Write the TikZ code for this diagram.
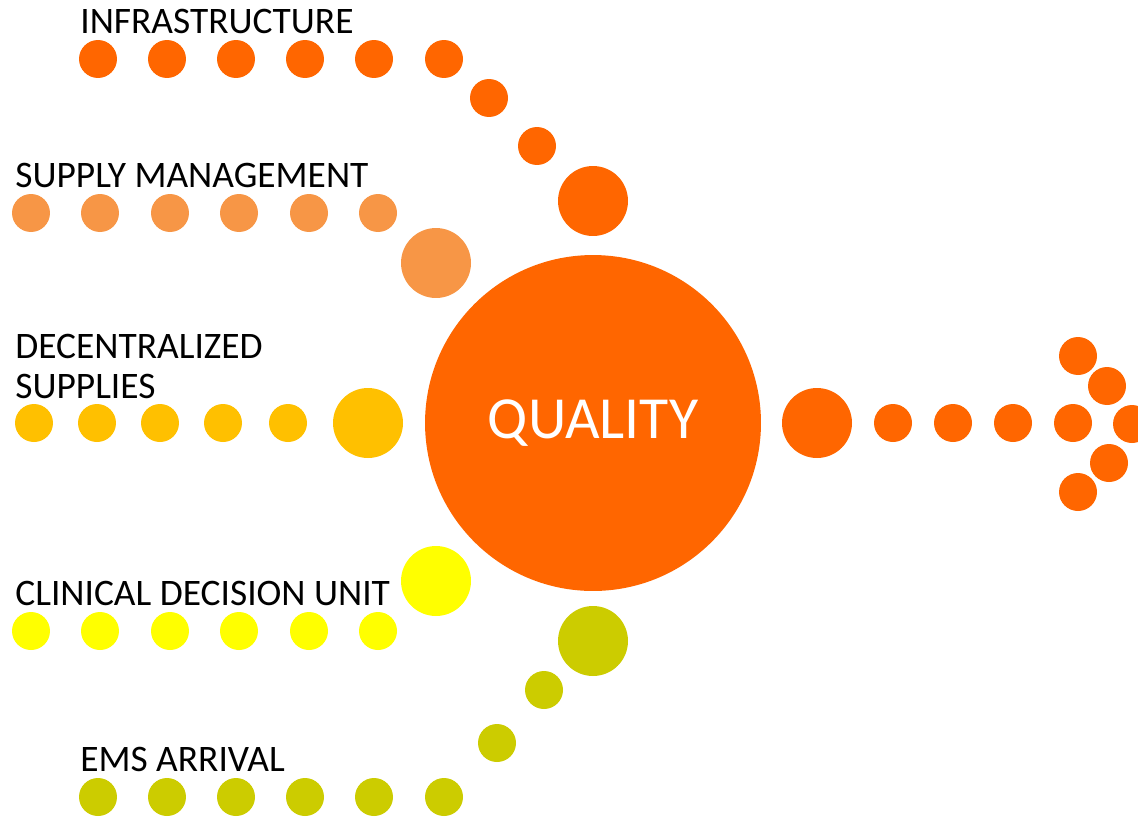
\documentclass[tikz,border=0pt]{standalone}
\usepackage{fontspec}
\setmainfont{Carlito}
\definecolor{qorange}{HTML}{FF6600}
\definecolor{qpeach}{HTML}{F79646}
\definecolor{qamber}{HTML}{FFC000}
\definecolor{qyellow}{HTML}{FFFF00}
\definecolor{qolive}{HTML}{CCCC00}
\tikzset{
  bead/.style={circle,fill=#1,inner sep=0pt,minimum size=0.76cm},
  bigbead/.style={circle,fill=#1,inner sep=0pt,minimum size=1.4cm},
  lbl/.style={anchor=base west,inner sep=0pt,font=\fontsize{21.3}{25}\selectfont}
}
\begin{document}
\begin{tikzpicture}[x=0.02cm,y=-0.02cm]
\useasboundingbox (0,0) rectangle (1138,818);

% centre
\node[circle,fill=qorange,inner sep=0pt,minimum size=6.72cm,text=white,
  font=\fontsize{34}{40}\selectfont] (quality) at (593,423) {QUALITY};

% infrastructure
\foreach \x [count=\i] in {98,167,236,305,374,444}
  \node[bead=qorange] (infra\i) at (\x,59) {};
\node[bead=qorange] (infra7) at (489,98) {};
\node[bead=qorange] (infra8) at (537,146) {};
\node[bigbead=qorange] (infra9) at (593,201) {};
\node[lbl] (infralbl) at (80,33) {INFRASTRUCTURE};

% supply management
\foreach \x [count=\i] in {31,100,170,239,309,378}
  \node[bead=qpeach] (supply\i) at (\x,213) {};
\node[bigbead=qpeach] (supply7) at (436,263) {};
\node[lbl] (supplylbl) at (15,187) {SUPPLY MANAGEMENT};

% decentralized supplies
\foreach \x [count=\i] in {34,97,160,223,288}
  \node[bead=qamber] (decen\i) at (\x,423) {};
\node[bigbead=qamber] (decen6) at (368,423) {};
\node[lbl] (decenlbl) at (15,358) {DECENTRALIZED};
\node[lbl] (decenlblb) at (15,398) {SUPPLIES};

% clinical decision unit
\foreach \x [count=\i] in {31,100,170,239,309,378}
  \node[bead=qyellow] (cdu\i) at (\x,631) {};
\node[bigbead=qyellow] (cdu7) at (436,581) {};
\node[lbl] (cdulbl) at (15,605) {CLINICAL DECISION UNIT};

% ems arrival
\foreach \x [count=\i] in {98,167,236,305,374,444}
  \node[bead=qolive] (ems\i) at (\x,797) {};
\node[bead=qolive] (ems7) at (497,743) {};
\node[bead=qolive] (ems8) at (544,690) {};
\node[bigbead=qolive] (ems9) at (593,641) {};
\node[lbl] (emslbl) at (80,771) {EMS ARRIVAL};

% output arrow
\node[bigbead=qorange] (out1) at (817,423) {};
\foreach \x [count=\i from 2] in {893,953,1013,1073}
  \node[bead=qorange] (out\i) at (\x,423) {};
\node[bead=qorange] (tipa) at (1078,356) {};
\node[bead=qorange] (tipb) at (1107,386) {};
\node[bead=qorange] (tipc) at (1132,424) {};
\node[bead=qorange] (tipd) at (1109,463) {};
\node[bead=qorange] (tipe) at (1078,492) {};
\end{tikzpicture}
\end{document}
